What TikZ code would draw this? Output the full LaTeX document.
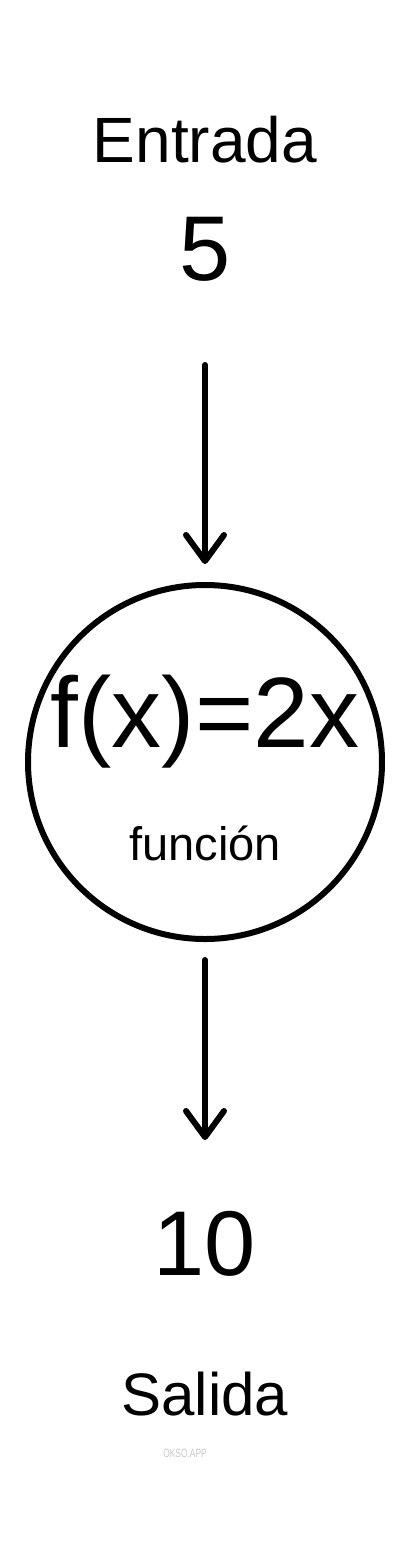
\documentclass[tikz,border=0pt]{standalone}
\usepackage{fontspec}
\setmainfont{Liberation Sans}
\usetikzlibrary{arrows.meta}

\begin{document}
\begin{tikzpicture}[x = 1pt, y = -1pt, line width = 6pt,
                      txt/.style = {anchor = base, inner sep = 0pt},
                      flow/.style = {-{Straight Barb[length = 26pt, width = 38pt, round]}, line cap = round}]
    \useasboundingbox (0, 0) rectangle (408, 1567);
    \node [txt, font = \fontsize{64}{70}\selectfont] (entrada) at (205, 162) {Entrada};
    \node [txt, font = \fontsize{92}{100}\selectfont] (cinco) at (205, 280) {5};

    \coordinate (a1) at (205, 365);
    \node [circle, draw, minimum size = 354pt, inner sep = 0pt] (fun) at (205, 762) {};
    \node [txt, font = \fontsize{100}{110}\selectfont] (formula) at (205, 747) {f(x)=2x};
    \node [txt, font = \fontsize{47}{52}\selectfont] (funcion) at (205, 860) {función};
    \draw [flow, shorten > = 18pt] (a1) -- (fun);

    \coordinate (a2) at (205, 1140);
    \draw [flow, shorten < = 18pt] (fun) -- (a2);

    \node [txt, font = \fontsize{92}{100}\selectfont] (diez) at (205, 1275) {10};
    \node [txt, font = \fontsize{60}{66}\selectfont] (salida) at (205, 1415) {Salida};
    \node [txt, text = black!22, font = \fontsize{12}{14}\selectfont] (marca) at (185, 1457) {\scalebox{0.7}[1]{OKSO.APP}};
\end{tikzpicture}
\end{document}
